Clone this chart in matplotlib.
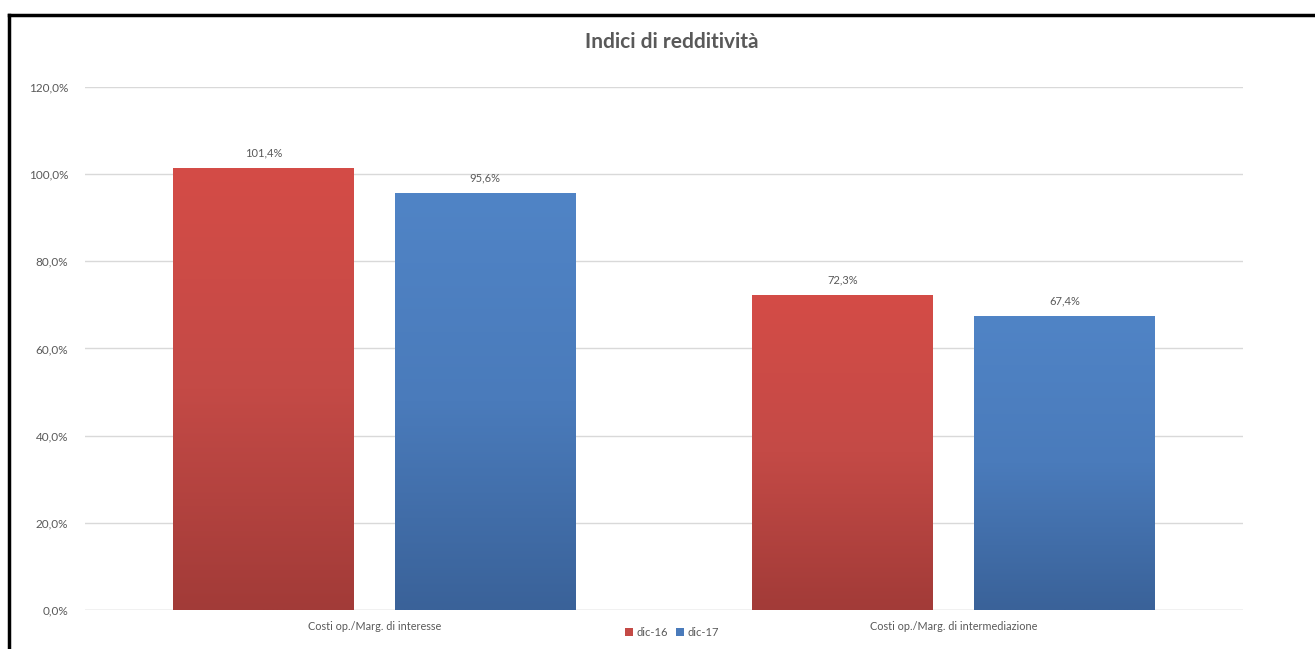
import matplotlib.pyplot as plt
import matplotlib.colors as mcolors
import numpy as np
from matplotlib.lines import Line2D
from matplotlib.patches import Patch

plt.rcParams["font.family"] = ["Lato", "DejaVu Sans"]

categories = ["Costi op./Marg. di interesse", "Costi op./Marg. di intermediazione"]
series_names = ["dic-16", "dic-17"]
dic16 = [101.4, 72.3]
dic17 = [95.6, 67.4]
yticks = [0, 20, 40, 60, 80, 100, 120]

colors = {"dic-16": ("#d44c47", "#c44a46", "#a23b38"),
          "dic-17": ("#5084c6", "#4a7bbb", "#3a6299")}
text_color = "#595959"

fig = plt.figure(figsize=(13.15, 6.49), dpi=100)
ax = fig.add_axes([0.0646, 0.0601, 0.8806, 0.8059])

x = np.arange(len(categories))
width = 0.3125
offset = 0.1915

for vals, name, shift in [(dic16, "dic-16", -offset), (dic17, "dic-17", offset)]:
    top_c, mid_c, bot_c = colors[name]
    bars = ax.bar(x + shift, vals, width, color=top_c, edgecolor="none", zorder=2)
    cmap = mcolors.LinearSegmentedColormap.from_list(name, [bot_c, mid_c, top_c])
    for bar, v in zip(bars, vals):
        x0 = bar.get_x()
        grad = np.linspace(0, 1, 256).reshape(-1, 1)
        im = ax.imshow(grad, cmap=cmap, aspect="auto", origin="lower",
                       extent=[x0, x0 + width, 0, v], zorder=3)
        im.set_clip_path(bar)
        ax.text(x0 + width / 2, v + 2.2, f"{v:.1f}%".replace(".", ","),
                ha="center", va="bottom", fontsize=8, color=text_color)

ax.set_xlim(-0.5, 1.5)
ax.set_ylim(0, 120)
ax.set_yticks(yticks)
ax.set_yticklabels([f"{t:.1f}%".replace(".", ",") for t in yticks],
                   fontsize=8.5, color=text_color)
ax.set_xticks(x)
ax.set_xticklabels(categories, fontsize=7.8, color=text_color)
ax.tick_params(axis="both", length=0, pad=12)
ax.tick_params(axis="x", pad=8)
ax.grid(axis="y", color="#d9d9d9", linewidth=1, zorder=0)
ax.set_axisbelow(True)
for side in ["top", "right", "left", "bottom"]:
    ax.spines[side].set_visible(False)
ax.axhline(0, color="#d9d9d9", linewidth=1, zorder=1)

fig.text(0.511, 0.935, "Indici di redditività", ha="center", va="center",
         fontsize=15, fontweight="bold", color=text_color)

handles = [Patch(facecolor=colors[n][1], edgecolor="none") for n in series_names]
fig.legend(handles, series_names, loc="center", bbox_to_anchor=(0.511, 0.026),
           ncol=2, frameon=False, fontsize=8, handlelength=0.7, handleheight=0.7,
           handletextpad=0.3, columnspacing=0.8, labelcolor=text_color)

# black frame on top and left edges
fig.add_artist(Line2D([0.0068, 1.0], [0.9775, 0.9775], transform=fig.transFigure,
                      color="black", linewidth=2.5))
fig.add_artist(Line2D([0.0068, 0.0068], [0.0, 0.9775], transform=fig.transFigure,
                      color="black", linewidth=2.5))

fig.savefig("out.png", dpi=100)
